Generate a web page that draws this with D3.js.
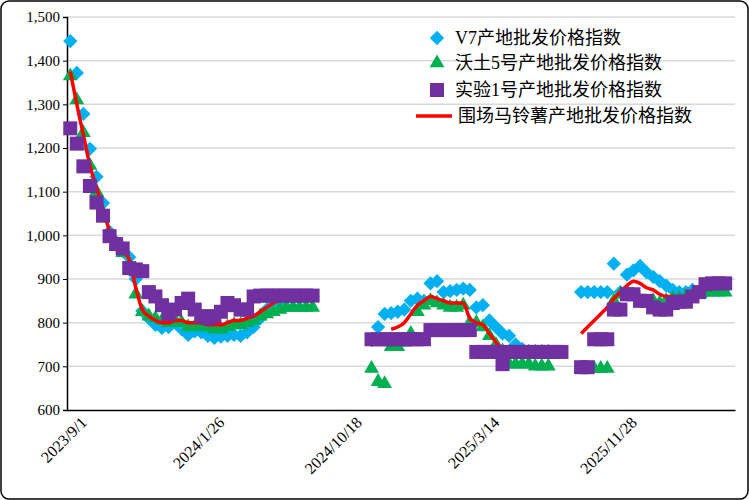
<!DOCTYPE html>
<html><head><meta charset="utf-8">
<script src="https://cdn.jsdelivr.net/npm/d3@7"></script>
<style>body{margin:0;background:#fff}</style></head>
<body><svg id="c" width="749" height="500"></svg>
<script>
const N = 102;
const tickIdx = [0,21,42,63,84];
const tickLabels = ["2023/9/1","2024/1/26","2024/10/18","2025/3/14","2025/11/28"];
const yTicks = [600,700,800,900,1000,1100,1200,1300,1400,1500];
const names = ["V7产地批发价格指数","沃土5号产地批发价格指数","实验1号产地批发价格指数","围场马铃薯产地批发价格指数"];
const _ = null;
const v7 = [1445,1372,1278,1198,1134,1074,1008,985,965,950,900,827,810,795,788,790,800,785,772,780,778,770,765,768,770,772,770,778,790,810,830,845,850,855,858,860,860,860,
 _,_,_,_,_,_,_,_,
 760,790,820,822,825,830,850,855,850,890,895,870,872,875,878,875,835,840,805,790,775,770,750,740,735,735,735,735,_,_,
 _,_,
 870,870,870,870,870,935,870,910,920,930,915,905,895,885,875,870,870,875,870,870,875,880,880,_];
const wotu = [1365,1310,1235,1160,1100,1050,1000,975,960,935,865,825,815,810,805,800,805,800,790,790,795,790,785,785,790,795,795,800,805,815,820,825,830,835,835,835,835,835,
 _,_,_,_,_,_,_,_,
 695,665,660,745,745,755,775,825,840,850,845,840,835,835,840,800,800,790,770,750,735,705,705,705,705,700,700,700,_,_,
 _,_,
 695,695,695,695,695,850,865,870,860,850,845,850,845,850,855,855,860,865,870,870,870,870,870,_];
const shiyan = [1245,1210,1158,1113,1075,1045,998,980,970,925,922,918,870,860,840,820,830,845,855,830,815,810,815,825,845,840,830,830,860,862,862,862,862,862,862,862,862,862,
 _,_,_,_,_,_,_,_,
 762,762,762,762,762,762,762,762,762,783,783,783,783,783,783,783,733,733,733,733,705,733,733,733,733,733,733,733,733,733,
 _,_,
 698,698,762,762,762,830,830,865,865,850,850,835,830,830,845,848,848,860,870,888,890,890,890,_];
const weichang = [1375,1300,1230,1160,1110,1060,1010,985,965,945,880,830,815,805,800,800,805,805,800,800,800,795,795,795,800,805,805,810,815,825,835,845,850,852,855,855,855,855,
 _,_,_,_,_,_,_,_,
 _,_,_,785,790,800,820,840,850,860,855,850,845,845,845,810,800,795,775,755,740,730,730,730,730,_,_,_,_,_,
 _,_,
 775,790,805,820,835,855,870,885,895,890,880,875,865,860,860,860,860,865,870,880,885,885,885,_];

const svg = d3.select("#c");
svg.append("rect").attr("x",1).attr("y",1).attr("width",747).attr("height",498).attr("rx",8)
  .attr("fill","#fff").attr("stroke","#000").attr("stroke-width",1.5);
const L=67,R=735,T=17,B=410;
const x = d3.scaleBand().domain(d3.range(N)).range([L,R]);
const cx = i => x(i)+x.bandwidth()/2;
const y = d3.scaleLinear().domain([600,1500]).range([B,T]);
const font = "'Liberation Serif','Times New Roman',serif";

svg.append("g").selectAll("line").data(yTicks.slice(1)).join("line")
  .attr("x1",L).attr("x2",R).attr("y1",d=>y(d)).attr("y2",d=>y(d)).attr("stroke","#d9d9d9").attr("stroke-width",1.5);

const ya = svg.append("g").attr("transform",`translate(${L},0)`).call(d3.axisLeft(y).tickValues(yTicks).tickFormat(d3.format(",")).tickSize(4));
ya.select(".domain").attr("stroke","#000").attr("stroke-width",1.5);
ya.selectAll("text").attr("font-family",font).attr("font-size",15).attr("fill","#000");
const xa = svg.append("g").attr("transform",`translate(0,${B})`).call(d3.axisBottom(x).tickValues(tickIdx).tickFormat((d,i)=>tickLabels[i]).tickSize(0));
xa.select(".domain").attr("stroke","#000").attr("stroke-width",1.5);
xa.selectAll("text").attr("font-family",font).attr("font-size",16).attr("fill","#000")
  .attr("text-anchor","end").attr("transform","translate(12,8) rotate(-45)").attr("dy","0.3em").attr("dx","0");

const blue="#00b0f0", green="#00b050", purple="#7030a0", red="#ff0000";
const idx = d3.range(N);
svg.append("g").selectAll("path").data(idx.filter(i=>v7[i]!=null)).join("path")
  .attr("d",d3.symbol(d3.symbolDiamond2,130)).attr("transform",i=>`translate(${cx(i)},${y(v7[i])})`)
  .attr("fill",blue);
svg.append("g").selectAll("path").data(idx.filter(i=>wotu[i]!=null)).join("path")
  .attr("d",d3.symbol(d3.symbolTriangle,95)).attr("transform",i=>`translate(${cx(i)},${y(wotu[i])})`)
  .attr("fill",green);
svg.append("path").datum(idx).attr("fill","none").attr("stroke",red).attr("stroke-width",3.5)
  .attr("d",d3.line().defined(i=>weichang[i]!=null).x(cx).y(i=>y(weichang[i])).curve(d3.curveMonotoneX));
svg.append("g").selectAll("rect").data(idx.filter(i=>shiyan[i]!=null)).join("rect")
  .attr("x",i=>cx(i)-7).attr("y",i=>y(shiyan[i])-7).attr("width",14).attr("height",14).attr("fill",purple);

const lg = svg.append("g").attr("font-family","'Liberation Serif','Noto Sans CJK SC',serif").attr("font-size",18);
const ly=[38,63,90,116];
lg.append("path").attr("d",d3.symbol(d3.symbolDiamond2,130)).attr("transform",`translate(437,${ly[0]})`).attr("fill",blue);
lg.append("path").attr("d",d3.symbol(d3.symbolTriangle,95)).attr("transform",`translate(437,${ly[1]})`).attr("fill",green);
lg.append("rect").attr("x",430).attr("y",ly[2]-7).attr("width",14).attr("height",14).attr("fill",purple);
lg.append("line").attr("x1",416).attr("x2",452).attr("y1",ly[3]).attr("y2",ly[3]).attr("stroke",red).attr("stroke-width",3.5);
names.forEach((n,i)=>lg.append("text").attr("x",i<3?455:458).attr("y",ly[i]).attr("dy","0.35em").text(n));
</script></body></html>
